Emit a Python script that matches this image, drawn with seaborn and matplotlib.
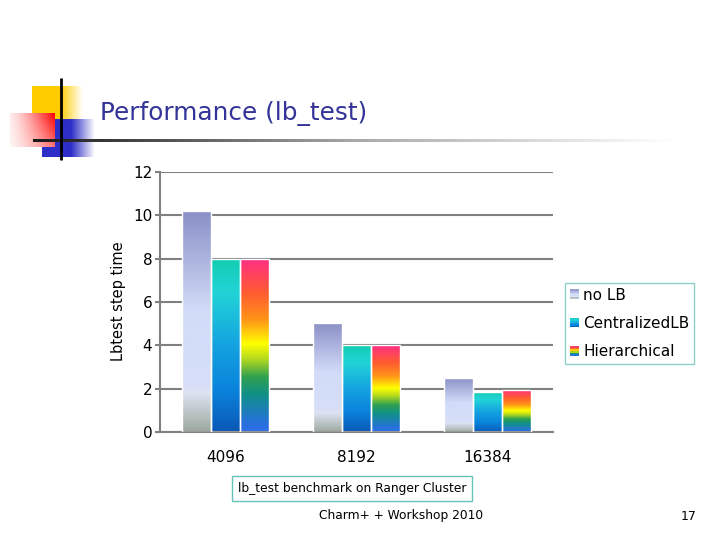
import numpy as np
import pandas as pd
import matplotlib.pyplot as plt
import seaborn as sns
from matplotlib.colors import LinearSegmentedColormap, to_rgb
from matplotlib.patches import Rectangle
from matplotlib.legend_handler import HandlerBase

sns.set_style('white')
plt.rcParams['font.family'] = ['DejaVu Sans']
plt.rcParams['text.color'] = 'black'
plt.rcParams['xtick.color'] = 'black'
plt.rcParams['ytick.color'] = 'black'

# data
procs = ['4096', '8192', '16384']
series = ['no LB', 'CentralizedLB', 'Hierarchical']
no_lb = [10.2, 5.05, 2.5]
central_lb = [8.0, 4.0, 1.85]
hierarchical = [8.0, 4.0, 1.95]
y_ticks = [0, 2, 4, 6, 8, 10, 12]

df = pd.DataFrame({
    'procs': procs * 3,
    'time': no_lb + central_lb + hierarchical,
    'series': [s for s in series for _ in procs],
})

# vertical gradients, top -> bottom
cmaps = {
    'no LB': LinearSegmentedColormap.from_list('nolb', [
        (0.0, '#8a8fc6'), (0.45, '#d2dcf8'), (0.78, '#d6def8'),
        (0.82, '#dde3f2'), (1.0, '#9aa69a')]),
    'CentralizedLB': LinearSegmentedColormap.from_list('cent', [
        (0.0, '#12cdb0'), (0.2, '#22d3d8'), (0.5, '#14a2e0'),
        (0.75, '#0a84dc'), (1.0, '#0a56b4')]),
    'Hierarchical': LinearSegmentedColormap.from_list('hier', [
        (0.0, '#ff2e86'), (0.2, '#ff5c30'), (0.35, '#ff9418'),
        (0.49, '#ffff00'), (0.58, '#b0d820'), (0.68, '#30a050'),
        (0.78, '#109088'), (0.95, '#2870e0'), (1.0, '#3070e8')]),
}


class GradientHandler(HandlerBase):
    def __init__(self, cmap):
        super().__init__()
        self.cmap = cmap

    def create_artists(self, legend, orig_handle, xdescent, ydescent,
                       width, height, fontsize, trans):
        n = 6
        arts = []
        for i in range(n):
            c = self.cmap((i + 0.5) / n)
            r = Rectangle((-xdescent, -ydescent + height * (n - 1 - i) / n),
                          width, height / n, facecolor=c, edgecolor='none',
                          transform=trans)
            arts.append(r)
        return arts


fig = plt.figure(figsize=(7.2, 5.4), dpi=100)

# slide decoration layer in pixel coordinates
deco = fig.add_axes([0, 0, 1, 1], zorder=0)


def hfade(color, w, h, start):
    xs = np.linspace(0, 1, w)
    f = np.clip((1 - xs) / (1 - start), 0, 1)
    c = np.array(to_rgb(color))
    img = np.ones((h, w, 3)) * (1 - f)[None, :, None] + c[None, None, :] * f[None, :, None]
    return img


deco.imshow(hfade('#ffcc00', 100, 10, 0.55), extent=(32, 83, 120, 86),
            aspect='auto', interpolation='bilinear')
deco.imshow(hfade('#2e2ec8', 100, 10, 0.55), extent=(42, 95, 157, 119),
            aspect='auto', interpolation='bilinear')
xs = np.linspace(0, 1, 64)
ys = np.linspace(0, 1, 64)
t = np.outer(1 - 0.45 * ys, 0.08 + 0.92 * xs ** 1.3)
red = np.array([1.0, 0.0, 0.0])
img_red = np.ones((64, 64, 3)) * (1 - t)[:, :, None] + red[None, None, :] * t[:, :, None]
deco.imshow(img_red, extent=(10, 55, 147, 113), aspect='auto', interpolation='bilinear')
line_cmap = LinearSegmentedColormap.from_list('line', [
    (0.0, '#1a1a1a'), (0.12, '#3a3a3a'), (0.5, '#a8a8a8'), (1.0, '#ffffff')])
deco.imshow(np.linspace(0, 1, 256).reshape(1, -1), cmap=line_cmap,
            extent=(33, 673, 142.5, 139.5), aspect='auto')
deco.plot([61, 61], [78, 160], color='black', lw=2, solid_capstyle='butt')

deco.text(100, 114, 'Performance (lb_test)', fontsize=17.8, color='#333399',
          ha='left', va='center')
deco.text(352, 488.5, 'lb_test benchmark on Ranger Cluster', fontsize=8.8,
          ha='center', va='center',
          bbox=dict(boxstyle='square,pad=0.5', fc='white', ec='#66c2b8', lw=1))
deco.text(401, 516, 'Charm+ + Workshop 2010', fontsize=8.8, ha='center', va='center')
deco.text(689, 516, '17', fontsize=9, ha='center', va='center')
deco.text(118, 301, 'Lbtest step time', fontsize=10.5, rotation=90,
          ha='center', va='center')
deco.set_xlim(0, 720)
deco.set_ylim(540, 0)
deco.axis('off')

# chart
ax = fig.add_axes([160 / 720, 1 - 432 / 540, 393 / 720, 260 / 540], zorder=1)
sns.barplot(data=df, x='procs', y='time', hue='series', order=procs,
            hue_order=series, width=0.66, errorbar=None, legend=False,
            saturation=1, ax=ax)

for name, cont in zip(series, ax.containers):
    for p in cont.patches:
        x0, y0 = p.get_x(), p.get_y()
        w, h = p.get_width(), p.get_height()
        im = ax.imshow(np.linspace(0, 1, 256).reshape(-1, 1), cmap=cmaps[name],
                       aspect='auto', extent=(x0 - 0.01, x0 + w + 0.01, y0 - 0.05, y0 + h),
                       origin='upper', zorder=2, interpolation='bilinear')
        im.set_clip_path(p)
        p.set_facecolor('none')
        p.set_edgecolor('white')
        p.set_linewidth(1)
        p.set_zorder(3)

ax.set_xlim(-0.5, 2.5)
ax.set_ylim(0, 12)
ax.set_yticks(y_ticks)
ax.set_yticklabels([str(v) for v in y_ticks], fontsize=11)
ax.set_xticks(range(len(procs)))
ax.set_xticklabels(procs, fontsize=11)
ax.set_xticks([-0.5, 0.5, 1.5, 2.5], minor=True)
ax.tick_params(axis='x', which='major', length=0, pad=13)
ax.tick_params(axis='x', which='minor', length=4, width=1.5, color='#808080')
ax.tick_params(axis='y', length=3.5, width=1.5, color='#808080', pad=2, left=True)
ax.set_xlabel('')
ax.set_ylabel('')
ax.set_axisbelow(True)
ax.yaxis.grid(True, color='#808080', lw=1.5)
ax.xaxis.grid(False)
for s in ['top', 'right']:
    ax.spines[s].set_visible(False)
for s in ['left', 'bottom']:
    ax.spines[s].set_color('#808080')
    ax.spines[s].set_linewidth(1.5)

handles = [Rectangle((0, 0), 1, 1, label=s) for s in series]
hmap = {h: GradientHandler(cmaps[s]) for h, s in zip(handles, series)}
leg = ax.legend(handles=handles, labels=series, handler_map=hmap,
                loc='upper left', bbox_to_anchor=(565 / 720, 1 - 283 / 540),
                bbox_transform=fig.transFigure, fontsize=11, frameon=True,
                fancybox=False, handlelength=0.6, handleheight=0.6,
                handletextpad=0.3, labelspacing=0.88, borderpad=0.3,
                borderaxespad=0)
leg.get_frame().set_edgecolor('#70c4bc')
leg.get_frame().set_linewidth(1)

fig.savefig('out.png', dpi=100)
